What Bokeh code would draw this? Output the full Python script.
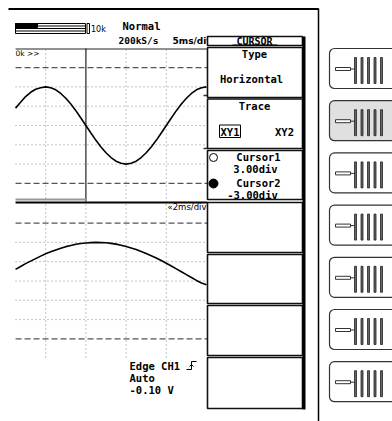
from bokeh.plotting import figure
from bokeh.models import Range1d
from bokeh.core.properties import value
from bokeh.embed import file_html
from bokeh.resources import INLINE

# ---------------- data ----------------
# upper window (5 ms/div): time in divisions, voltage in divisions
upper_t = [0.25, 0.375, 0.5, 0.625, 0.75, 0.875, 1.0, 1.125, 1.25, 1.375, 1.5, 1.625,
           1.75, 1.875, 2.0, 2.125, 2.25, 2.375, 2.5, 2.625, 2.75, 2.875, 3.0, 3.125,
           3.25, 3.375, 3.5, 3.625, 3.75, 3.875, 4.0, 4.125, 4.25, 4.375, 4.5, 4.625,
           4.75, 4.875, 5.0]
upper_v = [0.9, 1.2, 1.5, 1.72, 1.88, 1.96, 2.0, 1.96, 1.85, 1.66, 1.41, 1.11,
           0.77, 0.39, 0.0, -0.39, -0.77, -1.11, -1.41, -1.66, -1.85, -1.96, -2.0, -1.96,
           -1.85, -1.66, -1.41, -1.11, -0.77, -0.39, 0.0, 0.39, 0.77, 1.11, 1.41, 1.66,
           1.85, 1.96, 2.0]
# lower window (2 ms/div zoom)
lower_t = [0.25, 0.375, 0.5, 0.625, 0.75, 0.875, 1.0, 1.125, 1.25, 1.375, 1.5, 1.625,
           1.75, 1.875, 2.0, 2.125, 2.25, 2.375, 2.5, 2.625, 2.75, 2.875, 3.0, 3.125,
           3.25, 3.375, 3.5, 3.625, 3.75, 3.875, 4.0, 4.125, 4.25, 4.375, 4.5, 4.625,
           4.75, 4.875, 5.0]
lower_v = [0.6, 0.75, 0.9, 1.03, 1.16, 1.29, 1.41, 1.51, 1.61, 1.7, 1.78, 1.84,
           1.9, 1.94, 1.97, 1.99, 2.0, 1.99, 1.98, 1.95, 1.91, 1.85, 1.79, 1.71,
           1.63, 1.53, 1.42, 1.31, 1.19, 1.06, 0.92, 0.78, 0.63, 0.48, 0.33, 0.18,
           0.03, -0.1, -0.2]
grid_div_levels = [-2, -1, 0, 1, 2]
cursor_levels = [3.0, -3.0]
grid_t_upper = [1, 3, 4]
grid_t_lower = [1, 2, 3, 4]
zoom_box_t = 2

header_texts = ["Normal", "200kS/s"]
menu_title = "CURSOR"
menu_type = ["Type", "Horizontal"]
menu_trace = ["Trace", "XY1", "XY2"]
menu_cursor = ["Cursor1", "3.00div", "Cursor2", "-3.00div"]
trigger_texts = ["Edge CH1", "Auto", "-0.10 V"]
n_buttons = 7

# ---------------- layout helpers ----------------
X0, XS = 5.0, 40.2           # px of t=0, px per div
UC, LC, YS = 125.0, 280.5, 19.3

def tx(t):
    return X0 + XS * t

FONT = value("DejaVu Sans Mono")

p = figure(width=392, height=421, x_range=Range1d(0, 392), y_range=Range1d(421, 0),
           output_backend="svg", toolbar_location=None, x_axis_type=None, y_axis_type=None,
           min_border=0, min_border_left=0, min_border_right=0, min_border_top=0,
           min_border_bottom=0)
p.grid.visible = False
p.outline_line_color = None
p.background_fill_color = "white"

def txt(x, y, s, size="10px", bold=True, align="center", font=FONT, color="black"):
    p.text(x=[x], y=[y], text=[s], text_font=font, text_font_size=size,
           text_font_style="bold" if bold else "normal", text_align=align,
           text_baseline="middle", text_color=color)

# ---------------- frame ----------------
p.segment(x0=[8], y0=[8.5], x1=[318], y1=[8.5], line_color="black", line_width=2.2)
p.segment(x0=[318], y0=[8], x1=[318], y1=[421], line_color="black", line_width=1.5)

# record-length bar
p.quad(left=[15], right=[85], top=[23], bottom=[33], fill_color=None, line_color="black", line_width=1)
p.multi_line(xs=[[15, 85]] * 3, ys=[[25.5, 25.5], [28, 28], [30.5, 30.5]], line_color="black", line_width=1)
p.quad(left=[15], right=[37], top=[23], bottom=[27], fill_color="black", line_color="black")
p.quad(left=[86.5], right=[89], top=[23], bottom=[33], fill_color=None, line_color="black", line_width=1)
txt(90.5, 28.5, "10k", size="8px", bold=False, align="left", font=value("DejaVu Sans"))

txt(141, 25, header_texts[0], size="10.5px")
txt(138, 40, header_texts[1], size="9.5px")
txt(172, 40, "5ms/div", size="9px", align="left", font=value("DejaVu Sans"))

# ---------------- screen ----------------
SL, SR = tx(0.25), tx(5.02)
p.segment(x0=[SL], y0=[48.5], x1=[SR], y1=[48.5], line_color="#222", line_width=1)
txt(15, 53, "0k >>", size="7.5px", bold=False, align="left", font=value("DejaVu Sans"))

# vertical dotted grid
for t in grid_t_upper:
    p.segment(x0=[tx(t)], y0=[49], x1=[tx(t)], y1=[200], line_color="#888", line_width=1, line_dash="1 3")
for t in grid_t_lower:
    p.segment(x0=[tx(t)], y0=[204], x1=[tx(t)], y1=[358], line_color="#888", line_width=1, line_dash="1 3")
p.segment(x0=[tx(zoom_box_t)], y0=[48], x1=[tx(zoom_box_t)], y1=[201], line_color="#222", line_width=1.2)

# horizontal dotted grid and cursors
for c in (UC, LC):
    for lv in grid_div_levels:
        y = c - YS * lv
        p.segment(x0=[SL], y0=[y], x1=[SR], y1=[y], line_color="#888", line_width=1, line_dash="1 3")
    for lv in cursor_levels:
        y = c - YS * lv
        p.segment(x0=[SL], y0=[y], x1=[SR], y1=[y], line_color="#555", line_width=1.4, line_dash="6 3")

# level markers at the right edge of the screen
p.segment(x0=[203, 203], y0=[95, 148], x1=[207, 207], y1=[95, 148], line_color="#333", line_width=1.5)

# zoom bar and window separator
p.segment(x0=[SL], y0=[199], x1=[tx(zoom_box_t)], y1=[199], line_color="#999", line_width=2.2)
p.segment(x0=[SL], y0=[202], x1=[SR], y1=[202], line_color="black", line_width=2)
txt(167, 206, "\u00ab2ms/div", size="8.5px", bold=False, align="left", font=value("DejaVu Sans"))

# traces
p.line(x=[tx(t) for t in upper_t], y=[UC - YS * v for v in upper_v], line_color="black", line_width=1.6)
p.line(x=[tx(t) for t in lower_t], y=[LC - YS * v for v in lower_v], line_color="black", line_width=1.6)

# trigger info
txt(129, 365, trigger_texts[0], size="10.5px", align="left")
txt(129, 377, trigger_texts[1], size="10.5px", align="left")
txt(129, 389, trigger_texts[2], size="10.5px", align="left")
p.line(x=[186, 191, 191, 196], y=[369, 369, 361, 361], line_color="black", line_width=1)
p.line(x=[189, 191, 193], y=[366, 364, 366], line_color="black", line_width=1)

# ---------------- soft-key menu ----------------
ML, MR = 207, 302
boxes = [(36, 45), (47, 97), (98.5, 148), (150, 199), (202, 252), (254, 303), (305, 355), (357, 408)]
p.quad(left=[ML] * len(boxes), right=[MR] * len(boxes), top=[b[0] for b in boxes],
       bottom=[b[1] for b in boxes], fill_color="white", line_color="#111", line_width=1.6)
p.segment(x0=[303.5], y0=[36], x1=[303.5], y1=[409], line_color="black", line_width=3)

txt(254, 40.5, menu_title, size="10px")
p.segment(x0=[232], y0=[44.5], x1=[277], y1=[44.5], line_color="black", line_width=1)
txt(254, 53, menu_type[0], size="10.5px")
txt(251, 78, menu_type[1], size="10.5px")
txt(254, 105, menu_trace[0], size="10.5px")
p.quad(left=[219], right=[240], top=[124.5], bottom=[137], fill_color=None, line_color="black", line_width=1)
txt(229.5, 131, menu_trace[1], size="10.5px")
txt(284, 131, menu_trace[2], size="10.5px")
p.scatter(x=[213], y=[157], size=8, marker="circle", fill_color="white", line_color="black", line_width=1)
p.scatter(x=[213], y=[183], size=9, marker="circle", fill_color="black", line_color="black")
txt(258, 156.5, menu_cursor[0], size="10.5px")
txt(255, 168, menu_cursor[1], size="10.5px")
txt(258, 182.5, menu_cursor[2], size="10.5px")
txt(252, 194, menu_cursor[3], size="10.5px")

# ---------------- buttons ----------------
tops = [48 + i * 52.2 for i in range(n_buttons)]
fills = ["#e0e0e0" if i == 1 else "white" for i in range(n_buttons)]
p.quad(left=[329] * n_buttons, right=[402] * n_buttons, top=tops, bottom=[t + 40 for t in tops],
       fill_color=fills, line_color="#333", line_width=1.2, border_radius=5)
for t in tops:
    p.quad(left=[335], right=[350], top=[t + 19], bottom=[t + 22], fill_color="white",
           line_color="#333", line_width=1)
    p.segment(x0=[350], y0=[t + 20.5], x1=[354], y1=[t + 20.5], line_color="#333", line_width=1)
    bx = [355, 361.5, 368, 374.5, 381]
    p.quad(left=[b - 1.0 for b in bx], right=[b + 1.0 for b in bx], top=[t + 9] * 5,
           bottom=[t + 35] * 5, fill_color="#666", line_color="#222", line_width=0.8)

open("out.html", "w").write(file_html(p, INLINE))
